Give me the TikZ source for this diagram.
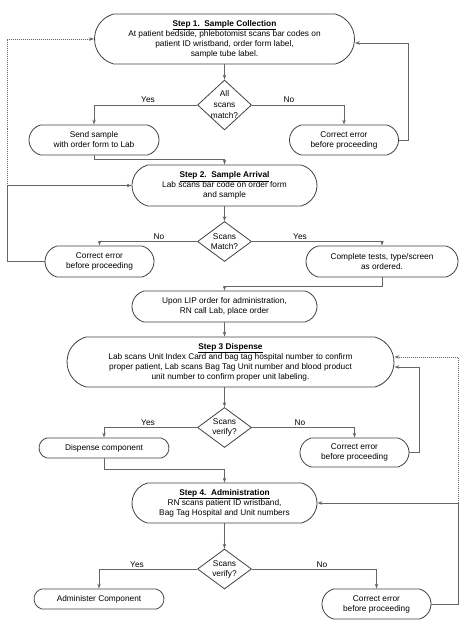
\documentclass[tikz,border=0pt]{standalone}
\usepackage{fontspec}
\setmainfont{Liberation Sans}
\usetikzlibrary{shapes.misc,shapes.geometric,arrows.meta}
\begin{document}
\begin{tikzpicture}[x=1pt,y=-1pt,
  box/.style={rounded rectangle, rounded rectangle arc length=150, draw=black!75, line width=0.8pt, inner sep=0pt},
  dia/.style={diamond, draw=black!75, line width=0.8pt, inner sep=0pt, minimum width=54pt, minimum height=50pt},
  txt/.style={align=center, font=\fontsize{8.3}{10}\selectfont, inner sep=0pt, text=black},
  conn/.style={draw=black!60, line width=0.8pt, -{Stealth[length=5pt,width=3.5pt]}},
  dconn/.style={conn, dash pattern=on 1pt off 1pt},
  lab/.style={font=\fontsize{8.3}{10}\selectfont, inner sep=0pt}
]
\useasboundingbox (0,0) rectangle (469,623);

% Step 1
\node[box, minimum width=260pt, minimum height=50pt] (s1) at (224.5,39) {};
\node[txt] (s1t) at (s1) {\underline{\textbf{Step 1.\ \ Sample Collection}}\\At patient bedside, phlebotomist scans bar codes on\\patient ID wristband, order form label,\\sample tube label.};
\node[dia] (d1) at (224.5,105) {};
\node[txt, font=\fontsize{8.3}{11}\selectfont] (d1t) at (d1) {All\\scans\\match?};
\node[box, minimum width=130pt, minimum height=30pt] (send) at (94,140) {};
\node[txt] (sendt) at (send) {Send sample\\with order form to Lab};
\node[box, minimum width=109pt, minimum height=30pt] (ce1) at (344,140) {};
\node[txt] (ce1t) at (ce1) {Correct error\\before proceeding};
\node[lab] (y1) at (148,100) {Yes};
\node[lab] (n1) at (289,100) {No};

% Step 2
\node[box, minimum width=185pt, minimum height=41pt] (s2) at (224.5,185.5) {};
\node[txt] (s2t) at (s2) {\underline{\textbf{Step 2.\ \ Sample Arrival}}\\Lab scans bar code on order form\\and sample};
\node[dia, minimum height=40pt] (d2) at (224.5,241.5) {};
\node[txt] (d2t) at (d2) {Scans\\Match?};
\node[box, minimum width=109pt, minimum height=31pt] (ce2) at (99.5,261.5) {};
\node[txt] (ce2t) at (ce2) {Correct error\\before proceeding};
\node[box, minimum width=152pt, minimum height=31pt] (ct) at (382,261.5) {};
\node[txt] (ctt) at (ct) {Complete tests, type/screen\\as ordered.};
\node[lab] (n2) at (159,237) {No};
\node[lab] (y2) at (300,237) {Yes};

\node[box, minimum width=185pt, minimum height=31pt] (lip) at (224.5,306.5) {};
\node[txt] (lipt) at (lip) {Upon LIP order for administration,\\RN call Lab, place order};

% Step 3
\node[box, minimum width=327pt, minimum height=50pt] (s3) at (230.5,362) {};
\node[txt] (s3t) at (s3) {\underline{\textbf{Step 3 Dispense}}\\Lab scans Unit Index Card and bag tag hospital number to confirm\\proper patient, Lab scans Bag Tag Unit number and blood product\\unit number to confirm proper unit labeling.};
\node[dia, minimum height=40pt] (d3) at (224.5,427.5) {};
\node[txt] (d3t) at (d3) {Scans\\verify?};
\node[box, minimum width=130pt, minimum height=20pt] (disp) at (104,448) {};
\node[txt] (dispt) at (disp) {Dispense component};
\node[box, minimum width=109pt, minimum height=29pt] (ce3) at (354.5,452.5) {};
\node[txt] (ce3t) at (ce3) {Correct error\\before proceeding};
\node[lab] (y3) at (148,423) {Yes};
\node[lab] (n3) at (300,423) {No};

% Step 4
\node[box, minimum width=185pt, minimum height=40pt] (s4) at (224.5,503) {};
\node[txt] (s4t) at (s4) {\underline{\textbf{Step 4.\ \ Administration}}\\RN scans patient ID wristband,\\Bag Tag Hospital and Unit numbers};
\node[dia, minimum height=40pt] (d4) at (224.5,569) {};
\node[txt] (d4t) at (d4) {Scans\\verify?};
\node[box, minimum width=130pt, minimum height=20pt] (adm) at (99,599) {};
\node[txt] (admt) at (adm) {Administer Component};
\node[box, minimum width=109pt, minimum height=30pt] (ce4) at (376.5,604) {};
\node[txt] (ce4t) at (ce4) {Correct error\\before proceeding};
\node[lab] (y4) at (137,565) {Yes};
\node[lab] (n4) at (322,565) {No};

% helper coordinates
\coordinate (j1) at (224.5,159);
\coordinate (j2) at (224.5,286);
\coordinate (j3) at (224.5,469);
\coordinate (rc1) at (408,43);
\coordinate (lc) at (7,185.5);
\coordinate (rc3) at (419,367);
\coordinate (rc4) at (458,503);

% connectors
\draw[conn] (s1) -- (d1);
\draw[conn] (d1.west) -| (send.north);
\draw[conn] (d1.east) -| (ce1.north);
\draw[conn] (ce1.east) -| (rc1) -- ([yshift=-4pt]s1.east);
\draw[conn] (send.south) |- (j1) -- (s2.north);

\draw[conn] (s2.south) -- (d2.north);
\draw[conn] (d2.west) -| (ce2.north);
\draw[conn] (d2.east) -| (ct.north);
\draw[conn] (ce2.west) -| (lc) -- (s2.west);
\draw[dconn] (lc) |- (s1.west);
\draw[conn] (ct.south) |- (j2) -- (lip.north);

\draw[conn] (lip.south) -- (lip.south |- s3.north);
\draw[conn] (d3.north |- s3.south) -- (d3.north);
\draw[conn] (d3.west) -| (disp.north);
\draw[conn] (d3.east) -| (ce3.north);
\draw[conn] (ce3.east) -| (rc3) -- ([yshift=-5pt]s3.east);
\draw[conn] (disp.south) |- (j3) -- (s4.north);

\draw[conn] (s4.south) -- (d4.north);
\draw[conn] (d4.west) -| (adm.north);
\draw[conn] (d4.east) -| (ce4.north);
\draw[conn] (ce4.east) -| (rc4) -- (s4.east);
\draw[dconn] (rc4) |- ([yshift=5pt]s3.east);
\end{tikzpicture}
\end{document}
